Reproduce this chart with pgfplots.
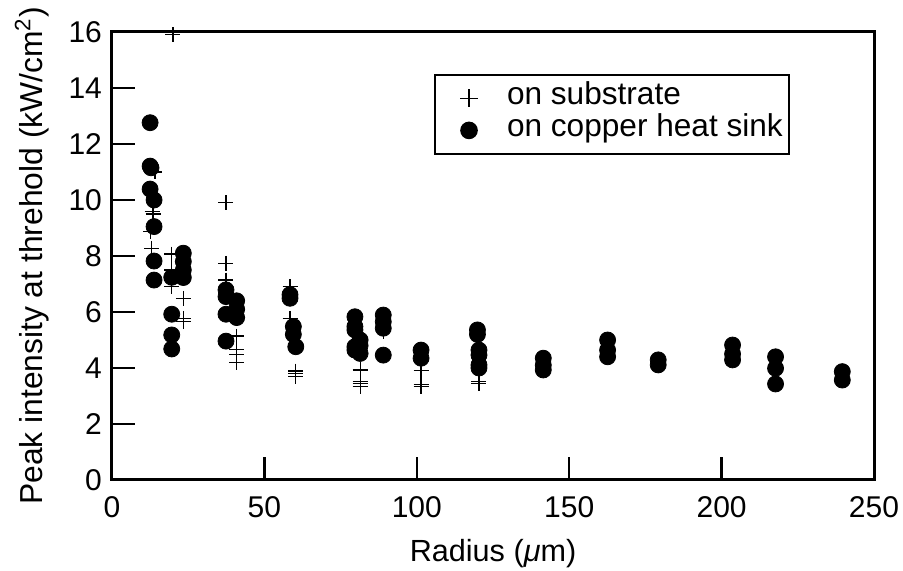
\documentclass[border=0pt]{standalone}
\usepackage{pgfplots}
\pgfplotsset{compat=1.18}
\usepackage{fontspec}
\setmainfont{Liberation Sans}
\newcommand{\lf}{\fontsize{15}{18}\selectfont}
\newcommand{\yf}{\fontsize{15.9}{19}\selectfont}
\newcommand{\gf}{\fontsize{15.8}{19}\selectfont}
\begin{document}
\begin{tikzpicture}
\begin{axis}[
  anchor=south west, at={(0pt,0pt)},
  width=381pt, height=224pt, scale only axis,
  xmin=0, xmax=250, ymin=0, ymax=16,
  xtick={0,50,...,250}, ytick={0,2,...,16},
  xtick pos=bottom, ytick pos=left,
  tick align=inside, major tick length=11.5pt,
  axis line style={line width=1.5pt},
  tick style={line width=1.2pt, black},
  /pgf/number format/assume math mode=true,
  tick label style={font=\lf},
  xticklabel style={anchor=base, yshift=-19pt},
  yticklabel style={anchor=east, xshift=-1.5pt},
  xlabel={Radius (\textit{μ}m)},
  ylabel={Peak intensity at threhold (kW/cm\textsuperscript{2})},
  xlabel style={font=\fontsize{15.3}{18}\selectfont, at={(axis description cs:0.5,0)}, anchor=base, yshift=-41pt},
  ylabel style={font=\yf, at={(axis description cs:-0.0906,0.5)}, anchor=base},
  legend style={at={(0.4226,0.90625)}, anchor=north west, draw=black, line width=1pt,
     font=\gf, inner xsep=0pt, inner ysep=3.7pt, row sep=0pt,
     nodes={inner sep=0pt, inner xsep=3pt, text height=11pt, text depth=5pt}},
  legend cell align=left,
  legend image code/.code={\path[draw=none, fill=none] (0pt,-1pt) rectangle (33pt,1pt);
     \draw[#1] plot coordinates {(17pt,0pt)};},
]
\addplot[only marks, mark=+, mark size=3.75pt, line width=0.6pt, black,
  legend image post style={mark size=4.5pt}] coordinates {
(20,15.9) (14.1,11.0) (37.4,9.9) (13.2,9.58) (13.5,9.5) (12.7,8.87) (13.0,8.27)
(19.6,8.07) (19.6,7.5) (19.6,6.9) (23.4,6.49) (23.4,5.77) (23.4,5.65)
(37.4,7.74) (37.4,7.14) (40.9,5.14) (40.9,4.67) (40.9,4.49) (40.9,4.19)
(58.4,6.9) (58.4,5.77) (60.3,3.89) (60.3,3.81) (60.3,3.71)
(79.7,5.5) (79.7,5.35) (81.4,3.93) (81.4,3.51) (81.4,3.45) (81.4,3.33)
(89.0,5.5) (89.0,5.3) (101.4,3.90) (101.4,3.42) (101.4,3.33)
(120.4,3.51) (120.4,3.45)
};
\addlegendentry{on substrate}
\addplot[only marks, mark=*, mark size=4pt, black,
  legend image post style={mark size=3.9pt}] coordinates {
(12.5,12.76) (12.5,11.21) (12.8,11.15) (12.5,10.39) (13.8,10.0) (13.8,9.05)
(13.8,7.82) (13.8,7.14)
(23.4,8.1) (23.4,7.8) (23.4,7.5) (23.4,7.23) (19.6,7.24)
(19.6,5.92) (19.6,5.18) (19.6,4.68)
(37.4,6.79) (37.4,6.55) (37.4,5.92) (37.4,4.96)
(40.9,6.4) (40.9,6.1) (40.9,5.8)
(58.4,6.49) (58.4,6.62) (59.5,5.48) (59.5,5.2) (60.3,4.76)
(79.7,5.83) (79.7,5.48) (79.7,5.36) (79.7,4.76) (79.7,4.64)
(81.4,5.0) (81.4,4.52) (81.4,4.8)
(89.0,5.89) (89.0,5.65) (89.0,5.42) (89.0,4.46)
(101.4,4.64) (101.4,4.35)
(119.9,5.36) (119.9,5.2) (120.4,4.64) (120.4,4.46) (120.4,4.11) (120.4,4.0)
(141.5,4.35) (141.5,3.93) (141.5,4.1)
(162.6,5.0) (162.6,4.64) (162.6,4.4)
(179.2,4.29) (179.2,4.11)
(203.6,4.82) (203.6,4.5) (203.6,4.29)
(217.7,4.4) (217.7,3.99) (217.7,3.43)
(239.6,3.87) (239.6,3.57)
};
\addlegendentry{on copper heat sink}
\end{axis}
\pgfresetboundingbox
\useasboundingbox (-56pt,-45.5pt) rectangle (395.5pt,240pt);
\end{tikzpicture}
\end{document}
